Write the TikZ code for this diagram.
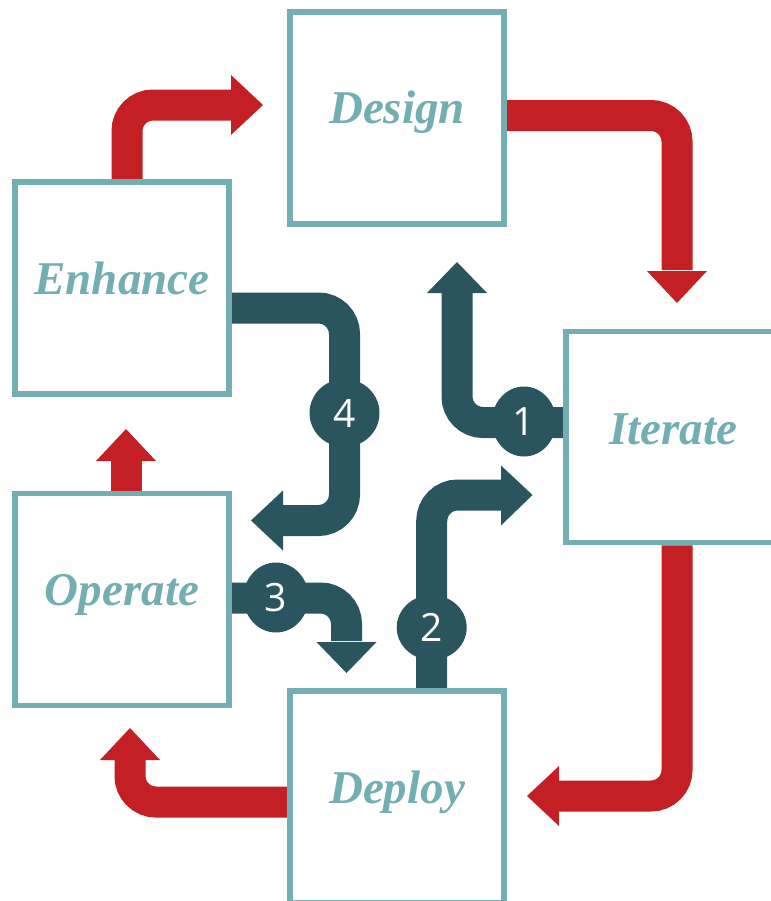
\documentclass[tikz,border=0pt]{standalone}
\usepackage{fontspec}
\usetikzlibrary{shapes.geometric}
\newfontfamily\lblfont{Liberation Serif}
\newfontfamily\numfont{Open Sans}
\definecolor{cred}{RGB}{197,31,38}
\definecolor{cdark}{RGB}{42,84,94}
\definecolor{cteal}{RGB}{115,174,178}
\pgfdeclarelayer{bg}
\pgfsetlayers{bg,main}
\tikzset{
  stagebox/.style={draw=cteal, line width=5.3bp, fill=white, minimum width=214bp, minimum height=212bp, inner sep=0pt},
  stagelbl/.style={text=cteal, anchor=base, inner sep=0pt, font=\lblfont\bfseries\itshape\fontsize{47bp}{50bp}\selectfont},
  redshaft/.style={draw=cred, line width=31bp, rounded corners=26bp},
  darkshaft/.style={draw=cdark, line width=31bp, rounded corners=26bp},
  numbadge/.style={ellipse, fill=cdark, text=white, inner sep=0pt, font=\numfont\fontsize{39bp}{42bp}\selectfont},
}
\begin{document}
\begin{tikzpicture}[x=1bp,y=-1bp]
\useasboundingbox (0,0) rectangle (771,901);
\clip (0,0) rectangle (771,901);
% stage boxes
\node[stagebox] (design)  at (397,118) {};
\node[stagebox] (enhance) at (122,288) {};
\node[stagebox, minimum height=211.5bp] (iterate) at (673,437) {};
\node[stagebox] (operate) at (122,599.7) {};
\node[stagebox] (deploy)  at (397,797) {};
% labels
\node[stagelbl] (ldesign)  at (397,123) {Design};
\node[stagelbl] (lenhance) at (122,294) {Enhance};
\node[stagelbl] (literate) at (673,444) {Iterate};
\node[stagelbl] (loperate) at (122,605) {Operate};
\node[stagelbl] (ldeploy)  at (397,803) {Deploy};
% corner / end coordinates
\coordinate (r1c) at (127,105);   \coordinate (r1b) at (232,105);
\coordinate (r2c) at (677,115.5); \coordinate (r2b) at (677,270);
\coordinate (r3c) at (677,796);   \coordinate (r3b) at (558,796);
\coordinate (r4c) at (130,802);   \coordinate (r4b) at (130,759);
\coordinate (r5b) at (126,460);
\coordinate (d4a) at (344.5,308); \coordinate (d4b) at (344.5,520.5); \coordinate (d4e) at (282,520.5);
\coordinate (d1a) at (457,422.5); \coordinate (d1e) at (457,292);
\coordinate (d2a) at (431.7,495); \coordinate (d2e) at (502,495);
\coordinate (d3a) at (346.5,598); \coordinate (d3e) at (346.5,641);
\begin{pgfonlayer}{bg}
  % red cycle
  \draw[redshaft] (enhance.north -| r1c) |- (r1b);
  \fill[cred] (231,75) -- (263,105) -- (231,135) -- cycle;
  \draw[redshaft] (design.east |- r2c) -| (r2b);
  \fill[cred] (647,271) -- (677,303) -- (707,271) -- cycle;
  \draw[redshaft] (iterate.south -| r3c) |- (r3b);
  \fill[cred] (559,766) -- (527,796) -- (559,826) -- cycle;
  \draw[redshaft] (deploy.west |- r4c) -| (r4b);
  \fill[cred] (100,760) -- (130,728) -- (160,760) -- cycle;
  \draw[redshaft, rounded corners=0pt] (operate.north -| r5b) -- (r5b);
  \fill[cred] (96,461) -- (126,429) -- (156,461) -- cycle;
  % dark numbered arrows
  \draw[darkshaft] (enhance.east |- d4a) -- (d4a) -- (d4b) -- (d4e);
  \fill[cdark] (283,490.5) -- (251,520.5) -- (283,550.5) -- cycle;
  \draw[darkshaft] (iterate.west |- d1a) -- (d1a) -- (d1e);
  \fill[cdark] (427,293) -- (457,262) -- (487,293) -- cycle;
  \draw[darkshaft] (deploy.north -| d2a) -- (d2a) -- (d2e);
  \fill[cdark] (501,465.5) -- (532.5,495) -- (501,525.5) -- cycle;
  \draw[darkshaft] (operate.east |- d3a) -- (d3a) -- (d3e);
  \fill[cdark] (316.5,642) -- (346.5,673) -- (376.5,642) -- cycle;
\end{pgfonlayer}
% number badges
\node[numbadge, minimum width=70bp, minimum height=68bp] (n4) at (344.5,413) {4};
\node[numbadge, minimum width=64bp, minimum height=70bp] (n1) at (524,421.5) {1};
\node[numbadge, minimum width=70bp, minimum height=65bp] (n2) at (431.7,627.5) {2};
\node[numbadge, minimum width=65bp, minimum height=70bp] (n3) at (276,597.5) {3};
\end{tikzpicture}
\end{document}
